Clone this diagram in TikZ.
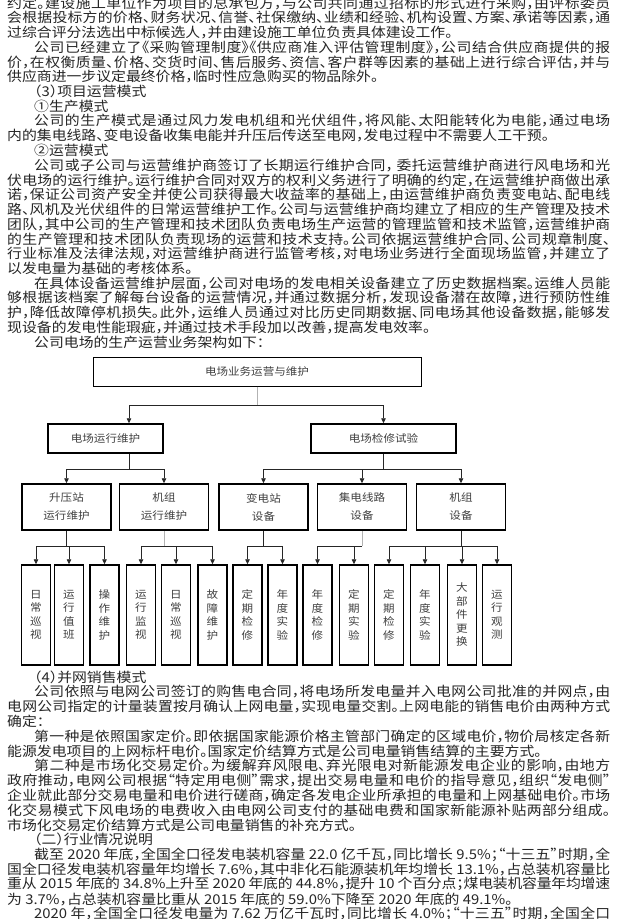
\documentclass[tikz,border=0pt]{standalone}
\usepackage{fontspec}
\newfontfamily\cjk[FakeStretch=1.1,RawFeature=+halt]{Noto Sans CJK SC}
\usetikzlibrary{arrows.meta}
\newcommand\RowStyle{\cjk\fontsize{13.5pt}{14.8pt}\selectfont\parindent=0pt\leftskip=0pt\rightskip=0pt
  \XeTeXlinebreaklocale "zh"\XeTeXlinebreakskip=0pt plus 4pt minus 1pt
  \tolerance=10000\pretolerance=10000\hbadness=10000\hfuzz=60pt}
\newcommand\FullRow[1]{\parbox{603pt}{\RowStyle\parfillskip=0pt\relax #1}}
\newcommand\LastRow[1]{\parbox{603pt}{\RowStyle #1}}
\newcommand\ind{\hspace*{27pt}}
\newcommand\TxF[3]{\node[txt] (#1) at (7,#2) {\FullRow{#3}};}
\newcommand\TxL[3]{\node[txt] (#1) at (7,#2) {\LastRow{#3}};}
\newcommand\dfont{\cjk\fontsize{10.5pt}{13.5pt}\selectfont}
\newcommand\dfontwide{\cjk\fontsize{10.5pt}{18pt}\selectfont}
\tikzset{
  txt/.style={anchor=west, inner sep=0pt, text=black!85},
  box/.style={draw=black, line width=1.5pt, inner sep=0pt, font=\dfont, text=black!75, align=center},
  topbox/.style={box, line width=1pt},
  lvtwo/.style={box, minimum height=29pt},
  lvthree/.style={box, font=\dfontwide, minimum width=89pt, minimum height=46pt},
  leaf/.style={box, minimum width=29pt, minimum height=100pt},
  conn/.style={line width=0.8pt, draw=black!85},
  faint/.style={line width=0.8pt, draw=black!30},
  arr/.style={conn, -{Triangle[length=5pt,width=4.5pt]}},
}
\begin{document}
\begin{tikzpicture}[x=1pt,y=-1pt]
\useasboundingbox (0,0) rectangle (625,919);
\fill[white] (0,0) rectangle (625,919);
\clip (0,0) rectangle (625,919);
% ---------- upper text ----------
\TxF{t0}{3.5}{约定。建设施工单位作为项目的总承包方，与公司共同通过招标的形式进行采购，由评标委员}
\TxF{t1}{17.75}{会根据投标方的价格、财务状况、信誉、社保缴纳、业绩和经验、机构设置、方案、承诺等因素，通}
\TxL{t2}{32.5}{过综合评分法选出中标候选人，并由建设施工单位负责具体建设工作。}
\TxF{t3}{47.25}{\ind 公司已经建立了《采购管理制度》《供应商准入评估管理制度》，公司结合供应商提供的报}
\TxF{t4}{62}{价，在权衡质量、价格、交货时间、售后服务、资信、客户群等因素的基础上进行综合评估，并与}
\TxL{t5}{76.75}{供应商进一步议定最终价格，临时性应急购买的物品除外。}
\TxL{t6}{91.5}{\ind （3）项目运营模式}
\TxL{t7}{106.25}{\ind ①生产模式}
\TxF{t8}{121}{\ind 公司的生产模式是通过风力发电机组和光伏组件，将风能、太阳能转化为电能，通过电场}
\TxL{t9}{135.75}{内的集电线路、变电设备收集电能并升压后传送至电网，发电过程中不需要人工干预。}
\TxL{t10}{150.5}{\ind ②运营模式}
\TxF{t11}{165.25}{\ind 公司或子公司与运营维护商签订了长期运行维护合同， 委托运营维护商进行风电场和光}
\TxF{t12}{180}{伏电场的运行维护。运行维护合同对双方的权利义务进行了明确的约定，在运营维护商做出承}
\TxF{t13}{194.75}{诺，保证公司资产安全并使公司获得最大收益率的基础上，由运营维护商负责变电站、配电线}
\TxF{t14}{209.5}{路、风机及光伏组件的日常运营维护工作。公司与运营维护商均建立了相应的生产管理及技术}
\TxF{t15}{224.25}{团队，其中公司的生产管理和技术团队负责电场生产运营的管理监管和技术监管，运营维护商}
\TxF{t16}{239}{的生产管理和技术团队负责现场的运营和技术支持。公司依据运营维护合同、公司规章制度、}
\TxF{t17}{253.75}{行业标准及法律法规，对运营维护商进行监管考核，对电场业务进行全面现场监管，并建立了}
\TxL{t18}{268.5}{以发电量为基础的考核体系。}
\TxF{t19}{283.25}{\ind 在具体设备运营维护层面，公司对电场的发电相关设备建立了历史数据档案。运维人员能}
\TxF{t20}{298}{够根据该档案了解每台设备的运营情况，并通过数据分析，发现设备潜在故障，进行预防性维}
\TxF{t21}{312.75}{护，降低故障停机损失。此外，运维人员通过对比历史同期数据、同电场其他设备数据，能够发}
\TxL{t22}{327.5}{现设备的发电性能瑕疵，并通过技术手段加以改善，提高发电效率。}
\TxL{t23}{342.25}{\ind 公司电场的生产运营业务架构如下：}
% ---------- diagram ----------
\node[topbox, minimum width=328pt, minimum height=29pt] (top) at (257,371.5) {电场业务运营与维护};
\node[lvtwo, minimum width=115pt] (ya) at (105.5,438.5) {电场运行维护};
\node[lvtwo, minimum width=145pt] (yb) at (383.5,438.5) {电场检修试验};
\node[lvthree] (sa) at (66.5,507) {升压站\\运行维护};
\node[lvthree] (sb) at (164,507) {机组\\运行维护};
\node[lvthree] (sc) at (263.5,507) {变电站\\设备};
\node[lvthree] (sd) at (362,507) {集电线路\\设备};
\node[lvthree] (se) at (461,507) {机组\\设备};
\node[leaf] (m1) at (36,615) {日\\常\\巡\\视};
\node[leaf] (m2) at (69,615) {运\\行\\值\\班};
\node[leaf] (m3) at (104.5,615) {操\\作\\维\\护};
\node[leaf] (m4) at (141,615) {运\\行\\监\\视};
\node[leaf] (m5) at (176,615) {日\\常\\巡\\视};
\node[leaf] (m6) at (212.5,615) {故\\障\\维\\护};
\node[leaf] (m7) at (247.5,615) {定\\期\\检\\修};
\node[leaf] (m8) at (282.5,615) {年\\度\\实\\验};
\node[leaf] (m9) at (317.5,615) {年\\度\\检\\修};
\node[leaf] (m10) at (354,615) {定\\期\\实\\验};
\node[leaf] (m11) at (389,615) {定\\期\\检\\修};
\node[leaf] (m12) at (425,615) {年\\度\\实\\验};
\node[leaf] (m13) at (462,615) {大\\部\\件\\更\\换};
\node[leaf] (m14) at (497,615) {运\\行\\观\\测};
% connectors level 1 -> 2
\coordinate (ha) at (129,405);
\coordinate (hb) at (383.5,405);
\draw[faint] (top.south) -- (top.south |- ha);
\draw[conn] (ha) -- (hb);
\draw[arr] (ha) -- (ha |- ya.north);
\draw[arr] (hb) -- (yb.north);
% level 2 -> 3
\coordinate (ga) at (129,469);
\draw[conn] (ga |- ya.south) -- (ga);
\draw[conn] (sa.north |- ga) -- (sb.north |- ga);
\draw[arr] (sa.north |- ga) -- (sa.north);
\draw[arr] (sb.north |- ga) -- (sb.north);
\coordinate (gb) at (383.5,469);
\draw[conn] (yb.south) -- (gb);
\draw[conn] (sc.north |- gb) -- (se.north |- gb);
\draw[arr] (sc.north |- gb) -- (sc.north);
\draw[arr] (sd.north |- gb) -- (sd.north);
\draw[arr] (se.north |- gb) -- (se.north);
% level 3 -> 4
\coordinate (lv) at (0,546);
\draw[conn] (sa.south) -- (sa.south |- lv);
\draw[conn] (m1.north |- lv) -- (m3.north |- lv);
\foreach \m in {m1,m2,m3} \draw[arr] (\m.north |- lv) -- (\m.north);
\draw[faint] (sb.south) -- (sb.south |- lv);
\draw[conn] (m4.north |- lv) -- (m6.north |- lv);
\foreach \m in {m4,m5,m6} \draw[arr] (\m.north |- lv) -- (\m.north);
\draw[conn] (sc.south) -- (sc.south |- lv);
\draw[conn] (m7.north |- lv) -- (m8.north |- lv);
\foreach \m in {m7,m8} \draw[arr] (\m.north |- lv) -- (\m.north);
\draw[faint] (sd.south) -- (sd.south |- lv);
\draw[conn] (m9.north |- lv) -- (sd.south |- lv);
\foreach \m in {m9,m10} \draw[arr] (\m.north |- lv) -- (\m.north);
\draw[conn] (se.south) -- (se.south |- lv);
\draw[conn] (m11.north |- lv) -- (m14.north |- lv);
\foreach \m in {m11,m12,m13,m14} \draw[arr] (\m.north |- lv) -- (\m.north);
% ---------- lower text ----------
\TxL{b0}{677}{\ind （4）并网销售模式}
\TxF{b1}{691.8}{\ind 公司依照与电网公司签订的购售电合同，将电场所发电量并入电网公司批准的并网点，由}
\TxF{b2}{706.6}{电网公司指定的计量装置按月确认上网电量，实现电量交割。上网电能的销售电价由两种方式}
\TxL{b3}{721.4}{确定：}
\TxF{b4}{736.2}{\ind 第一种是依照国家定价。即依据国家能源价格主管部门确定的区域电价，物价局核定各新}
\TxL{b5}{751}{能源发电项目的上网标杆电价。国家定价结算方式是公司电量销售结算的主要方式。}
\TxF{b6}{765.8}{\ind 第二种是市场化交易定价。为缓解弃风限电、弃光限电对新能源发电企业的影响，由地方}
\TxF{b7}{780.6}{政府推动，电网公司根据“特定用电侧”需求，提出交易电量和电价的指导意见，组织“发电侧”}
\TxF{b8}{795.4}{企业就此部分交易电量和电价进行磋商，确定各发电企业所承担的电量和上网基础电价。市场}
\TxF{b9}{810.2}{化交易模式下风电场的电费收入由电网公司支付的基础电费和国家新能源补贴两部分组成。}
\TxL{b10}{825}{市场化交易定价结算方式是公司电量销售的补充方式。}
\TxL{b11}{839.8}{\ind （二）行业情况说明}
\TxF{b12}{854.6}{\ind 截至 2020 年底，全国全口径发电装机容量 22.0 亿千瓦，同比增长 9.5\%；“十三五”时期，全}
\TxF{b13}{869.4}{国全口径发电装机容量年均增长 7.6\%，其中非化石能源装机年均增长 13.1\%，占总装机容量比}
\TxF{b14}{884.2}{重从 2015 年底的 34.8\%上升至 2020 年底的 44.8\%，提升 10 个百分点；煤电装机容量年均增速}
\TxL{b15}{899}{为 3.7\%，占总装机容量比重从 2015 年底的 59.0\%下降至 2020 年底的 49.1\%。}
\TxF{b16}{913.8}{\ind 2020 年，全国全口径发电量为 7.62 万亿千瓦时，同比增长 4.0\%；“十三五”时期，全国全口}
\end{tikzpicture}
\end{document}
